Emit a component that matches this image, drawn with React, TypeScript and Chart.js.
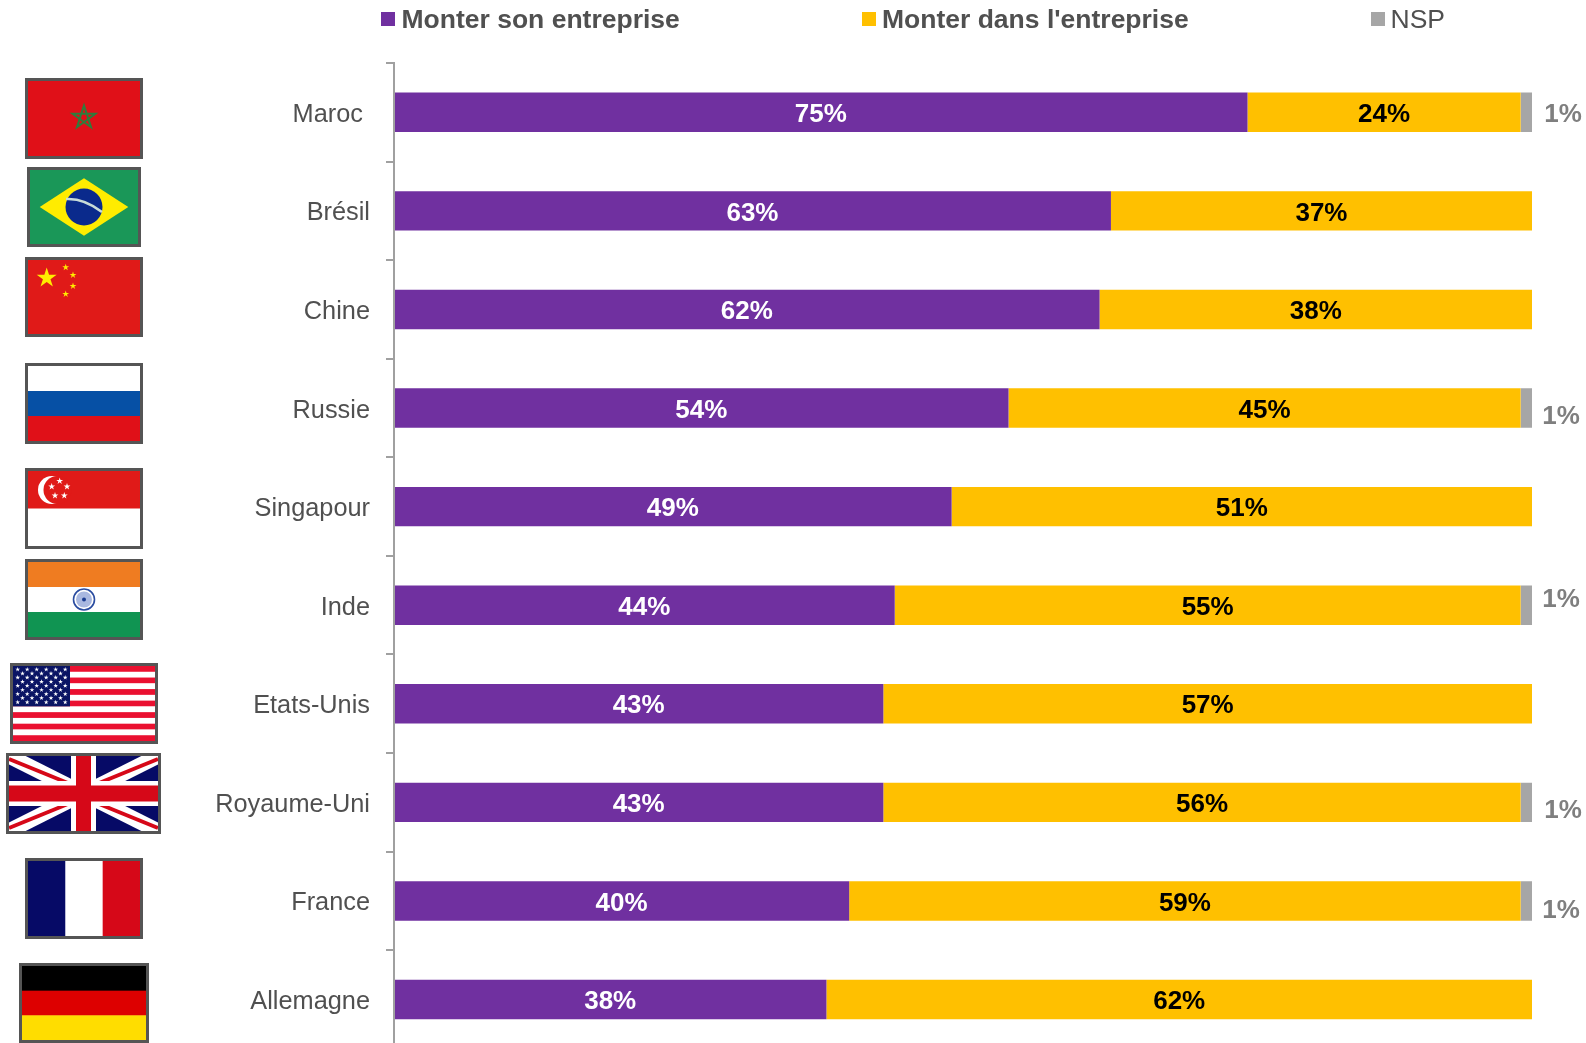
import React, { useEffect, useRef } from "react";
import { Chart, registerables } from "chart.js";

Chart.register(...registerables);

const categories = ["Maroc ", "Brésil", "Chine", "Russie", "Singapour", "Inde", "Etats-Unis", "Royaume-Uni", "France", "Allemagne"];
const monterSon = [75, 63, 62, 54, 49, 44, 43, 43, 40, 38];
const monterDans = [24, 37, 38, 45, 51, 55, 57, 56, 59, 62];
const nsp = [1, 0, 0, 1, 0, 1, 0, 1, 1, 0];
const seriesNames = ["Monter son entreprise", "Monter dans l'entreprise", "NSP"];

const FONT = '"Liberation Sans", Arial, sans-serif';
const PURPLE = "#7030A0";
const YELLOW = "#FFC000";
const GREY = "#A6A6A6";
const TEXT = "#505050";

// nudges of the outside "1%" labels, in pixels from the bar's end and centre
const nspNudge: Record<number, [number, number]> = {
  0: [31, 3],
  3: [29, 9],
  5: [29, -5],
  7: [31, 8],
  8: [29, 10],
};

const legendPlacement = [
  { box: 381, text: 401.5, bold: true },
  { box: 862, text: 882, bold: true },
  { box: 1371, text: 1390.5, bold: false },
];

const labelsPlugin = {
  id: "segmentLabels",
  afterDatasetsDraw(chart: any) {
    const ctx = chart.ctx;
    ctx.save();
    ctx.textAlign = "center";
    ctx.textBaseline = "middle";
    ctx.font = `bold 26px ${FONT}`;
    chart.data.datasets.forEach((ds: any, di: number) => {
      const meta = chart.getDatasetMeta(di);
      meta.data.forEach((el: any, i: number) => {
        const v = ds.data[i];
        if (!v) return;
        if (di === 2) {
          const [dx, dy] = nspNudge[i] || [30, 0];
          ctx.fillStyle = "#7F7F7F";
          ctx.fillText(`${v}%`, el.x + dx, el.y + dy);
        } else {
          ctx.fillStyle = di === 0 ? "#FFFFFF" : "#000000";
          ctx.fillText(`${v}%`, (el.x + el.base) / 2, el.y + 2.5);
        }
      });
    });
    ctx.restore();
  },
};

const legendPlugin = {
  id: "topLegend",
  afterDraw(chart: any) {
    const ctx = chart.ctx;
    ctx.save();
    ctx.textAlign = "left";
    ctx.textBaseline = "middle";
    chart.data.datasets.forEach((ds: any, di: number) => {
      const p = legendPlacement[di];
      ctx.fillStyle = ds.backgroundColor;
      ctx.fillRect(p.box, 12, 14, 14);
      ctx.fillStyle = TEXT;
      ctx.font = `${p.bold ? "bold " : ""}26.5px ${FONT}`;
      ctx.fillText(ds.label, p.text, 21);
    });
    ctx.restore();
  },
};

function star(cx: number, cy: number, r: number) {
  const pts: string[] = [];
  for (let i = 0; i < 10; i++) {
    const a = -Math.PI / 2 + (i * Math.PI) / 5;
    const rr = i % 2 === 0 ? r : r * 0.38;
    pts.push(`${(cx + rr * Math.cos(a)).toFixed(2)},${(cy + rr * Math.sin(a)).toFixed(2)}`);
  }
  return pts.join(" ");
}

function pentagram(cx: number, cy: number, r: number) {
  const pts: string[] = [];
  for (let i = 0; i < 5; i++) {
    const a = -Math.PI / 2 + (i * 2 * 2 * Math.PI) / 5;
    pts.push(`${(cx + r * Math.cos(a)).toFixed(2)},${(cy + r * Math.sin(a)).toFixed(2)}`);
  }
  return pts.join(" ");
}

function Maroc({ w, h }: any) {
  return (
    <>
      <rect width={w} height={h} fill="#E01018" />
      <polygon points={pentagram(w / 2, 36.5, 12)} fill="none" stroke="#2E7D3C" strokeWidth={2} />
    </>
  );
}
function Bresil({ w, h }: any) {
  return (
    <>
      <rect width={w} height={h} fill="#1A9758" />
      <polygon points={`${w * 0.09},${h / 2} ${w / 2},${h * 0.11} ${w * 0.91},${h / 2} ${w / 2},${h * 0.89}`} fill="#FFEC00" />
      <circle cx={w / 2} cy={h / 2} r={18.5} fill="#0A2A8C" />
      <path d={`M${w / 2 - 18} ${h / 2 - 8} Q${w / 2} ${h / 2 - 9} ${w / 2 + 18} ${h / 2 + 5}`} stroke="#C8DCD8" strokeWidth={2.5} fill="none" />
    </>
  );
}
function Chine({ w, h }: any) {
  return (
    <>
      <rect width={w} height={h} fill="#E01A18" />
      <polygon points={star(18.7, 18, 10.5)} fill="#FFEC00" />
      <polygon points={star(37.7, 7.3, 3.6)} fill="#FFEC00" />
      <polygon points={star(45, 15, 3.6)} fill="#FFEC00" />
      <polygon points={star(45, 26, 3.6)} fill="#FFEC00" />
      <polygon points={star(37.7, 34, 3.6)} fill="#FFEC00" />
    </>
  );
}
function Bands({ w, h, colors }: any) {
  return (
    <>
      {colors.map((c: string, i: number) => (
        <rect key={i} x={0} y={(i * h) / colors.length} width={w} height={h / colors.length + 0.5} fill={c} />
      ))}
    </>
  );
}
function Singapour({ w, h }: any) {
  const s = [[31.7, 10], [39, 15.7], [23.7, 15.7], [27, 24.7], [36.3, 24.7]];
  return (
    <>
      <rect width={w} height={h} fill="#FFFFFF" />
      <rect width={w} height={h / 2} fill="#E01A18" />
      <circle cx={24} cy={19} r={14} fill="#FFFFFF" />
      <circle cx={29.5} cy={19} r={14} fill="#E01A18" />
      {s.map(([x, y], i) => (
        <polygon key={i} points={star(x, y, 3.6)} fill="#FFFFFF" />
      ))}
    </>
  );
}
function Inde({ w, h }: any) {
  return (
    <>
      <Bands w={w} h={h} colors={["#EF7C21", "#FFFFFF", "#109452"]} />
      <circle cx={w / 2} cy={h / 2} r={10.5} fill="#FFFFFF" stroke="#2A4CA0" strokeWidth={1.6} />
      <circle cx={w / 2} cy={h / 2} r={8} fill="#A9B8E0" />
      <circle cx={w / 2} cy={h / 2} r={2} fill="#1B3C90" />
    </>
  );
}
function Usa({ w, h }: any) {
  const stripe = h / 13;
  const stripes = Array.from({ length: 13 }, (_, i) => i);
  const cantonW = 57;
  const cantonH = stripe * 7;
  const dots: [number, number][] = [];
  for (let r = 0; r < 9; r++) {
    const n = r % 2 === 0 ? 6 : 5;
    for (let c = 0; c < n; c++) {
      dots.push([(r % 2 === 0 ? 4.7 : 9.5) + c * 9.5, 3.4 + r * 4.1]);
    }
  }
  return (
    <>
      {stripes.map((i) => (
        <rect key={i} x={0} y={i * stripe} width={w} height={stripe + 0.3} fill={i % 2 === 0 ? "#EA1030" : "#FFFFFF"} />
      ))}
      <rect width={cantonW} height={cantonH} fill="#0A1464" />
      {dots.map(([x, y], i) => (
        <polygon key={i} points={star(x, y, 2.5)} fill="#FFFFFF" />
      ))}
    </>
  );
}
function Uk({ w, h }: any) {
  return (
    <>
      <rect width={w} height={h} fill="#060A66" />
      <line x1={0} y1={0} x2={w} y2={h} stroke="#FFFFFF" strokeWidth={15} />
      <line x1={w} y1={0} x2={0} y2={h} stroke="#FFFFFF" strokeWidth={15} />
      <path d={`M0 0 L${w / 2 - 12} ${h / 2 - 12}`} stroke="#D60818" strokeWidth={4} transform="translate(0 3)" />
      <path d={`M${w} ${h} L${w / 2 + 12} ${h / 2 + 12}`} stroke="#D60818" strokeWidth={4} transform="translate(0 -3)" />
      <path d={`M${w} 0 L${w / 2 + 12} ${h / 2 - 12}`} stroke="#D60818" strokeWidth={4} transform="translate(0 3)" />
      <path d={`M0 ${h} L${w / 2 - 12} ${h / 2 + 12}`} stroke="#D60818" strokeWidth={4} transform="translate(0 -3)" />
      <rect x={w / 2 - 12.5} y={0} width={25} height={h} fill="#FFFFFF" />
      <rect x={0} y={h / 2 - 12.5} width={w} height={25} fill="#FFFFFF" />
      <rect x={w / 2 - 7.5} y={0} width={15} height={h} fill="#D60818" />
      <rect x={0} y={h / 2 - 8} width={w} height={16} fill="#D60818" />
    </>
  );
}
function France({ w, h }: any) {
  return (
    <>
      <rect x={0} width={w / 3 + 0.5} height={h} fill="#060A66" />
      <rect x={w / 3} width={w / 3 + 0.5} height={h} fill="#FFFFFF" />
      <rect x={(2 * w) / 3} width={w / 3} height={h} fill="#D60818" />
    </>
  );
}

const flags = [
  { x: 25, y: 78, w: 118, h: 81, draw: (w: number, h: number) => <Maroc w={w} h={h} /> },
  { x: 27, y: 167, w: 114, h: 80, draw: (w: number, h: number) => <Bresil w={w} h={h} /> },
  { x: 25, y: 257, w: 118, h: 80, draw: (w: number, h: number) => <Chine w={w} h={h} /> },
  { x: 25, y: 363, w: 118, h: 81, draw: (w: number, h: number) => <Bands w={w} h={h} colors={["#FFFFFF", "#0650A5", "#E01018"]} /> },
  { x: 25, y: 468, w: 118, h: 81, draw: (w: number, h: number) => <Singapour w={w} h={h} /> },
  { x: 25, y: 559, w: 118, h: 81, draw: (w: number, h: number) => <Inde w={w} h={h} /> },
  { x: 10, y: 663, w: 148, h: 81, draw: (w: number, h: number) => <Usa w={w} h={h} /> },
  { x: 6, y: 753, w: 155, h: 81, draw: (w: number, h: number) => <Uk w={w} h={h} /> },
  { x: 25, y: 858, w: 118, h: 81, draw: (w: number, h: number) => <France w={w} h={h} /> },
  { x: 19, y: 963, w: 130, h: 80, draw: (w: number, h: number) => <Bands w={w} h={h} colors={["#000000", "#DD0000", "#FFDD00"]} /> },
];

export default function App() {
  const ref = useRef<HTMLCanvasElement>(null);
  useEffect(() => {
    const chart = new Chart(ref.current as HTMLCanvasElement, {
      type: "bar",
      data: {
        labels: categories,
        datasets: [
          { label: seriesNames[0], data: monterSon, backgroundColor: PURPLE, borderWidth: 0 },
          { label: seriesNames[1], data: monterDans, backgroundColor: YELLOW, borderWidth: 0 },
          { label: seriesNames[2], data: nsp, backgroundColor: GREY, borderWidth: 0 },
        ],
      },
      options: {
        indexAxis: "y",
        responsive: false,
        animation: false,
        maintainAspectRatio: false,
        layout: { padding: { top: 63, right: 54, bottom: 12, left: 0 } },
        datasets: { bar: { barPercentage: 0.4, categoryPercentage: 1 } },
        plugins: { legend: { display: false }, tooltip: { enabled: false }, title: { display: false } },
        scales: {
          x: { display: false, stacked: true, min: 0, max: 100 },
          y: {
            stacked: true,
            offset: true,
            afterFit(scale: any) {
              scale.width = 394;
            },
            border: { display: true, color: "#A0A0A0", width: 2, z: 1 },
            grid: { display: true, drawOnChartArea: false, drawTicks: true, tickLength: 8, tickColor: "#A0A0A0", tickWidth: 2, color: "#A0A0A0", lineWidth: 2 },
            ticks: { color: TEXT, padding: 16, autoSkip: false, labelOffset: 2.5, font: { family: FONT, size: 25.33 } },
          },
        },
      } as any,
      plugins: [labelsPlugin, legendPlugin],
    });
    return () => chart.destroy();
  }, []);

  return (
    <div style={{ position: "fixed", left: 0, top: 0, width: 1586, height: 1043, overflow: "hidden", background: "#FFFFFF" }}>
      <canvas ref={ref} width={1586} height={1080} style={{ display: "block" }} />
      {flags.map((f, i) => (
        <svg
          key={i}
          width={f.w}
          height={f.h}
          viewBox={`-3 -3 ${f.w} ${f.h}`}
          style={{ position: "absolute", left: f.x, top: f.y, overflow: "hidden" }}
        >
          {f.draw(f.w - 6, f.h - 6)}
          <rect x={-1.5} y={-1.5} width={f.w - 3} height={f.h - 3} fill="none" stroke="#555555" strokeWidth={3} />
        </svg>
      ))}
    </div>
  );
}
